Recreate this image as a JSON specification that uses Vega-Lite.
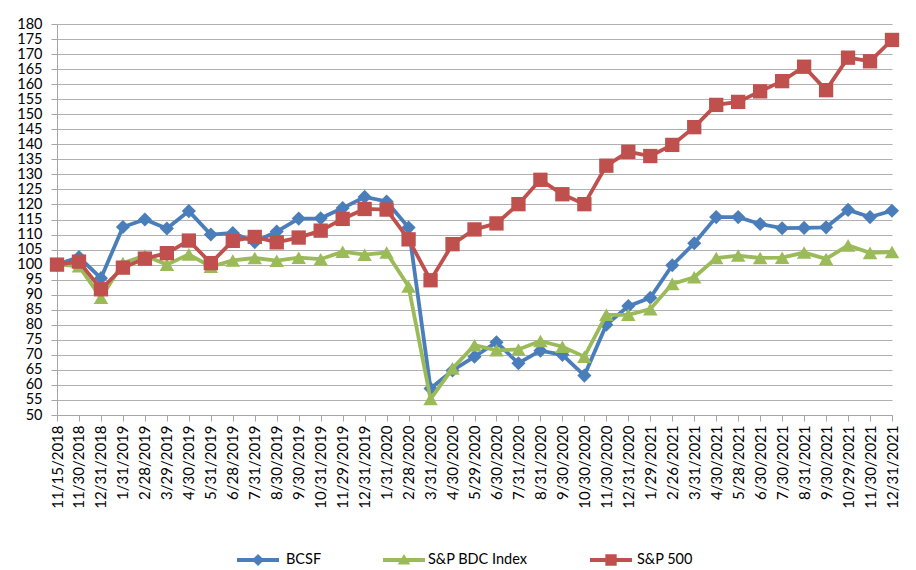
{
  "$schema": "https://vega.github.io/schema/vega-lite/v6.json",
  "width": 835,
  "height": 391,
  "autosize": "none",
  "padding": {"left": 57, "top": 24, "right": 24, "bottom": 155},
  "background": "white",
  "config": {
    "view": {"stroke": null},
    "font": "Lato",
    "axis": {
      "labelFont": "Lato",
      "labelColor": "#000000",
      "domainColor": "#a6a6a6",
      "tickColor": "#a6a6a6",
      "domainWidth": 1,
      "tickWidth": 1,
      "tickSize": 6,
      "title": null
    },
    "legend": {
      "orient": "none",
      "direction": "horizontal",
      "title": null,
      "labelFont": "Lato",
      "labelFontSize": 14.5,
      "labelColor": "#000000",
      "symbolSize": 1764,
      "symbolStrokeWidth": 0,
      "legendY": 515
    }
  },
  "data": {
    "values": [
      {"d": "11/15/2018", "s": "BCSF", "v": 100}, {"d": "11/15/2018", "s": "S&P BDC Index", "v": 100}, {"d": "11/15/2018", "s": "S&P 500", "v": 100},
      {"d": "11/30/2018", "s": "BCSF", "v": 102.5}, {"d": "11/30/2018", "s": "S&P BDC Index", "v": 99.5}, {"d": "11/30/2018", "s": "S&P 500", "v": 101},
      {"d": "12/31/2018", "s": "BCSF", "v": 95.5}, {"d": "12/31/2018", "s": "S&P BDC Index", "v": 89}, {"d": "12/31/2018", "s": "S&P 500", "v": 91.8},
      {"d": "1/31/2019", "s": "BCSF", "v": 112.5}, {"d": "1/31/2019", "s": "S&P BDC Index", "v": 100.5}, {"d": "1/31/2019", "s": "S&P 500", "v": 99},
      {"d": "2/28/2019", "s": "BCSF", "v": 115}, {"d": "2/28/2019", "s": "S&P BDC Index", "v": 103}, {"d": "2/28/2019", "s": "S&P 500", "v": 102},
      {"d": "3/29/2019", "s": "BCSF", "v": 112}, {"d": "3/29/2019", "s": "S&P BDC Index", "v": 100}, {"d": "3/29/2019", "s": "S&P 500", "v": 103.8},
      {"d": "4/30/2019", "s": "BCSF", "v": 117.8}, {"d": "4/30/2019", "s": "S&P BDC Index", "v": 103.4}, {"d": "4/30/2019", "s": "S&P 500", "v": 108},
      {"d": "5/31/2019", "s": "BCSF", "v": 110}, {"d": "5/31/2019", "s": "S&P BDC Index", "v": 99.3}, {"d": "5/31/2019", "s": "S&P 500", "v": 100.5},
      {"d": "6/28/2019", "s": "BCSF", "v": 110.5}, {"d": "6/28/2019", "s": "S&P BDC Index", "v": 101.4}, {"d": "6/28/2019", "s": "S&P 500", "v": 107.9},
      {"d": "7/31/2019", "s": "BCSF", "v": 107.5}, {"d": "7/31/2019", "s": "S&P BDC Index", "v": 102.2}, {"d": "7/31/2019", "s": "S&P 500", "v": 109.2},
      {"d": "8/30/2019", "s": "BCSF", "v": 111}, {"d": "8/30/2019", "s": "S&P BDC Index", "v": 101.3}, {"d": "8/30/2019", "s": "S&P 500", "v": 107.4},
      {"d": "9/30/2019", "s": "BCSF", "v": 115.3}, {"d": "9/30/2019", "s": "S&P BDC Index", "v": 102.3}, {"d": "9/30/2019", "s": "S&P 500", "v": 109},
      {"d": "10/31/2019", "s": "BCSF", "v": 115.4}, {"d": "10/31/2019", "s": "S&P BDC Index", "v": 101.8}, {"d": "10/31/2019", "s": "S&P 500", "v": 111.3},
      {"d": "11/29/2019", "s": "BCSF", "v": 118.8}, {"d": "11/29/2019", "s": "S&P BDC Index", "v": 104.3}, {"d": "11/29/2019", "s": "S&P 500", "v": 115.2},
      {"d": "12/31/2019", "s": "BCSF", "v": 122.5}, {"d": "12/31/2019", "s": "S&P BDC Index", "v": 103.3}, {"d": "12/31/2019", "s": "S&P 500", "v": 118.5},
      {"d": "1/31/2020", "s": "BCSF", "v": 121}, {"d": "1/31/2020", "s": "S&P BDC Index", "v": 104}, {"d": "1/31/2020", "s": "S&P 500", "v": 118.3},
      {"d": "2/28/2020", "s": "BCSF", "v": 112.3}, {"d": "2/28/2020", "s": "S&P BDC Index", "v": 92.7}, {"d": "2/28/2020", "s": "S&P 500", "v": 108.4},
      {"d": "3/31/2020", "s": "BCSF", "v": 58.8}, {"d": "3/31/2020", "s": "S&P BDC Index", "v": 55.3}, {"d": "3/31/2020", "s": "S&P 500", "v": 94.8},
      {"d": "4/30/2020", "s": "BCSF", "v": 64.8}, {"d": "4/30/2020", "s": "S&P BDC Index", "v": 65.5}, {"d": "4/30/2020", "s": "S&P 500", "v": 106.8},
      {"d": "5/29/2020", "s": "BCSF", "v": 69.4}, {"d": "5/29/2020", "s": "S&P BDC Index", "v": 73.2}, {"d": "5/29/2020", "s": "S&P 500", "v": 111.7},
      {"d": "6/30/2020", "s": "BCSF", "v": 74.2}, {"d": "6/30/2020", "s": "S&P BDC Index", "v": 71.5}, {"d": "6/30/2020", "s": "S&P 500", "v": 113.7},
      {"d": "7/31/2020", "s": "BCSF", "v": 67.2}, {"d": "7/31/2020", "s": "S&P BDC Index", "v": 71.8}, {"d": "7/31/2020", "s": "S&P 500", "v": 120.1},
      {"d": "8/31/2020", "s": "BCSF", "v": 71.4}, {"d": "8/31/2020", "s": "S&P BDC Index", "v": 74.6}, {"d": "8/31/2020", "s": "S&P 500", "v": 128.2},
      {"d": "9/30/2020", "s": "BCSF", "v": 70}, {"d": "9/30/2020", "s": "S&P BDC Index", "v": 72.7}, {"d": "9/30/2020", "s": "S&P 500", "v": 123.4},
      {"d": "10/30/2020", "s": "BCSF", "v": 63.1}, {"d": "10/30/2020", "s": "S&P BDC Index", "v": 69.4}, {"d": "10/30/2020", "s": "S&P 500", "v": 120.1},
      {"d": "11/30/2020", "s": "BCSF", "v": 80}, {"d": "11/30/2020", "s": "S&P BDC Index", "v": 83.3}, {"d": "11/30/2020", "s": "S&P 500", "v": 132.9},
      {"d": "12/31/2020", "s": "BCSF", "v": 86.2}, {"d": "12/31/2020", "s": "S&P BDC Index", "v": 83.3}, {"d": "12/31/2020", "s": "S&P 500", "v": 137.5},
      {"d": "1/29/2021", "s": "BCSF", "v": 89}, {"d": "1/29/2021", "s": "S&P BDC Index", "v": 85.2}, {"d": "1/29/2021", "s": "S&P 500", "v": 136.1},
      {"d": "2/26/2021", "s": "BCSF", "v": 99.8}, {"d": "2/26/2021", "s": "S&P BDC Index", "v": 93.6}, {"d": "2/26/2021", "s": "S&P 500", "v": 139.8},
      {"d": "3/31/2021", "s": "BCSF", "v": 107.1}, {"d": "3/31/2021", "s": "S&P BDC Index", "v": 95.8}, {"d": "3/31/2021", "s": "S&P 500", "v": 145.7},
      {"d": "4/30/2021", "s": "BCSF", "v": 115.8}, {"d": "4/30/2021", "s": "S&P BDC Index", "v": 102.2}, {"d": "4/30/2021", "s": "S&P 500", "v": 153.1},
      {"d": "5/28/2021", "s": "BCSF", "v": 115.8}, {"d": "5/28/2021", "s": "S&P BDC Index", "v": 103}, {"d": "5/28/2021", "s": "S&P 500", "v": 154.1},
      {"d": "6/30/2021", "s": "BCSF", "v": 113.5}, {"d": "6/30/2021", "s": "S&P BDC Index", "v": 102.2}, {"d": "6/30/2021", "s": "S&P 500", "v": 157.6},
      {"d": "7/30/2021", "s": "BCSF", "v": 112.1}, {"d": "7/30/2021", "s": "S&P BDC Index", "v": 102.3}, {"d": "7/30/2021", "s": "S&P 500", "v": 161},
      {"d": "8/31/2021", "s": "BCSF", "v": 112.2}, {"d": "8/31/2021", "s": "S&P BDC Index", "v": 104}, {"d": "8/31/2021", "s": "S&P 500", "v": 165.8},
      {"d": "9/30/2021", "s": "BCSF", "v": 112.4}, {"d": "9/30/2021", "s": "S&P BDC Index", "v": 101.9}, {"d": "9/30/2021", "s": "S&P 500", "v": 158},
      {"d": "10/29/2021", "s": "BCSF", "v": 118.2}, {"d": "10/29/2021", "s": "S&P BDC Index", "v": 106.4}, {"d": "10/29/2021", "s": "S&P 500", "v": 168.8},
      {"d": "11/30/2021", "s": "BCSF", "v": 115.8}, {"d": "11/30/2021", "s": "S&P BDC Index", "v": 103.9}, {"d": "11/30/2021", "s": "S&P 500", "v": 167.6},
      {"d": "12/31/2021", "s": "BCSF", "v": 117.9}, {"d": "12/31/2021", "s": "S&P BDC Index", "v": 104.2}, {"d": "12/31/2021", "s": "S&P 500", "v": 174.7}
    ]
  },
  "encoding": {
    "x": {
      "field": "d",
      "type": "ordinal",
      "sort": null,
      "scale": {"type": "point", "padding": 0},
      "axis": {"labelAngle": -90, "labelFontSize": 15, "labelPadding": 4, "grid": false, "labelOverlap": false}
    },
    "y": {
      "field": "v",
      "type": "quantitative",
      "scale": {"domain": [50, 180], "nice": false, "zero": false},
      "axis": {
        "values": [50, 55, 60, 65, 70, 75, 80, 85, 90, 95, 100, 105, 110, 115, 120, 125, 130, 135, 140, 145, 150, 155, 160, 165, 170, 175, 180],
        "grid": true,
        "gridColor": "#b0b0b0",
        "gridWidth": 1,
        "labelFontSize": 14.5,
        "labelPadding": 9,
        "labelOverlap": false
      }
    }
  },
  "layer": [
    {
      "transform": [{"filter": {"field": "s", "equal": "BCSF"}}],
      "layer": [
        {"mark": {"type": "line", "strokeWidth": 3.8, "color": "#4A7EBB"}},
        {
          "mark": {"type": "point", "filled": true, "opacity": 1, "size": 200, "shape": "diamond"},
          "encoding": {
            "color": {
              "field": "s",
              "type": "nominal",
              "scale": {"domain": ["BCSF"], "range": ["#4A7EBB"]},
              "legend": {"legendX": 180, "labelOffset": 7, "symbolType": "M-1,-0.095H1V0.095H-1Z M-0.29,0L0,-0.29L0.29,0L0,0.29Z"}
            }
          }
        }
      ]
    },
    {
      "transform": [{"filter": {"field": "s", "equal": "S&P BDC Index"}}],
      "layer": [
        {"mark": {"type": "line", "strokeWidth": 3.8, "color": "#9BBB59"}},
        {
          "mark": {"type": "point", "filled": true, "opacity": 1, "size": 210, "shape": "triangle-up"},
          "encoding": {
            "color": {
              "field": "s",
              "type": "nominal",
              "scale": {"domain": ["S&P BDC Index"], "range": ["#9BBB59"]},
              "legend": {"legendX": 326, "labelOffset": 3, "symbolType": "M-1,-0.095H1V0.095H-1Z M-0.3,0.22L0,-0.28L0.3,0.22Z"}
            }
          }
        }
      ]
    },
    {
      "transform": [{"filter": {"field": "s", "equal": "S&P 500"}}],
      "layer": [
        {"mark": {"type": "line", "strokeWidth": 3.8, "color": "#C0504D"}},
        {
          "mark": {"type": "point", "filled": true, "opacity": 1, "size": 205, "shape": "square"},
          "encoding": {
            "color": {
              "field": "s",
              "type": "nominal",
              "scale": {"domain": ["S&P 500"], "range": ["#C0504D"]},
              "legend": {"legendX": 533, "labelOffset": 5, "symbolType": "M-1,-0.095H1V0.095H-1Z M-0.27,-0.27H0.27V0.27H-0.27Z"}
            }
          }
        }
      ]
    }
  ],
  "resolve": {"scale": {"color": "independent"}, "legend": {"color": "independent"}}
}
